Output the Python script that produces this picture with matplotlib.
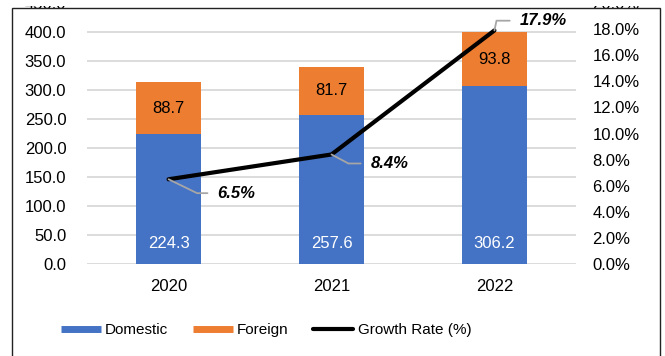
import numpy as np
import matplotlib
matplotlib.use('Agg')
import matplotlib.pyplot as plt
from matplotlib.lines import Line2D
from matplotlib.patches import Rectangle

plt.rcParams['font.family'] = ['Liberation Sans', 'DejaVu Sans']

years = ['2020', '2021', '2022']
domestic = [224.3, 257.6, 306.2]
foreign = [88.7, 81.7, 93.8]
growth = [6.5, 8.4, 17.9]
growth_labels = ['6.5%', '8.4%', '17.9%']

blue = '#4472C4'
orange = '#ED7D31'
grid_c = '#D9D9D9'
fs = 12

fig = plt.figure(figsize=(6.65, 3.56), dpi=100)
ax = fig.add_axes([0.131, 0.258, 0.735, 0.7336])
ax2 = ax.twinx()

x = np.arange(len(years))
w = 0.4
ax.bar(x, domestic, w, color=blue, zorder=2)
ax.bar(x, foreign, w, bottom=domestic, color=orange, zorder=2)

for i in range(len(years)):
    ax.annotate(f'{domestic[i]:.1f}', (x[i], 0), xytext=(0, 15), textcoords='offset points',
                ha='center', va='center', color='white', fontsize=fs)
    ax.text(x[i], domestic[i] + foreign[i] / 2, f'{foreign[i]:.1f}',
            ha='center', va='center', color='black', fontsize=fs)

ax.set_ylim(0, 450)
ax.set_yticks(np.arange(0, 451, 50))
ax.set_yticklabels([f'{v:.1f}' for v in np.arange(0, 451, 50)])
ax.set_xlim(-0.5, 2.5)
ax.set_xticks(x)
ax.set_xticklabels(years)
ax.yaxis.grid(True, color=grid_c, lw=1.3, zorder=0)
ax.set_axisbelow(True)
ax.tick_params(axis='y', length=0, pad=15, labelsize=fs)
ax.tick_params(axis='x', length=0, pad=11, labelsize=fs)

ax2.plot(x, growth, color='black', lw=3, solid_capstyle='round', zorder=3)
ax2.set_ylim(0, 20)
ax2.set_yticks(np.arange(0, 21, 2))
ax2.set_yticklabels([f'{v:.1f}%' for v in np.arange(0, 21, 2)])
ax2.tick_params(axis='y', length=0, pad=12, labelsize=fs)

offsets = [(35, -10, -26), (28, -6.5, -28), (18, 7, 78)]
for i, (dx, dy, ang) in enumerate(offsets):
    ax2.annotate(growth_labels[i], (x[i], growth[i]), xytext=(dx, dy), textcoords='offset points',
                 ha='left', va='center', fontsize=fs, fontweight='bold', fontstyle='italic',
                 arrowprops=dict(arrowstyle='-', color='#A6A6A6', lw=1.3, shrinkA=5, shrinkB=0,
                                 relpos=(0, 0.5),
                                 connectionstyle=f'angle,angleA=0,angleB={ang},rad=0'))

for a in (ax, ax2):
    for s in a.spines.values():
        s.set_visible(False)

handles = [Line2D([0], [0], color=blue, lw=5, solid_capstyle='butt'),
           Line2D([0], [0], color=orange, lw=5, solid_capstyle='butt'),
           Line2D([0], [0], color='black', lw=3, solid_capstyle='round')]
fig.legend(handles, ['Domestic', 'Foreign', 'Growth Rate (%)'], loc='center',
           bbox_to_anchor=(0.4, 0.073), ncol=3, frameon=False, fontsize=11,
           handlelength=2.6, handletextpad=0.3, columnspacing=1.6)

# white strip along the top edge, then the outer frame
fig.patches.append(Rectangle((0, 1 - 6 / 356), 1, 6 / 356, transform=fig.transFigure,
                             facecolor='white', edgecolor='none', zorder=10))
fig.patches.append(Rectangle((12 / 665, -0.1), (660 - 12) / 665, 1.1 - 8 / 356,
                             transform=fig.transFigure, fill=False, edgecolor='#222222',
                             lw=1, zorder=11))

fig.savefig('out.png', dpi=100)
